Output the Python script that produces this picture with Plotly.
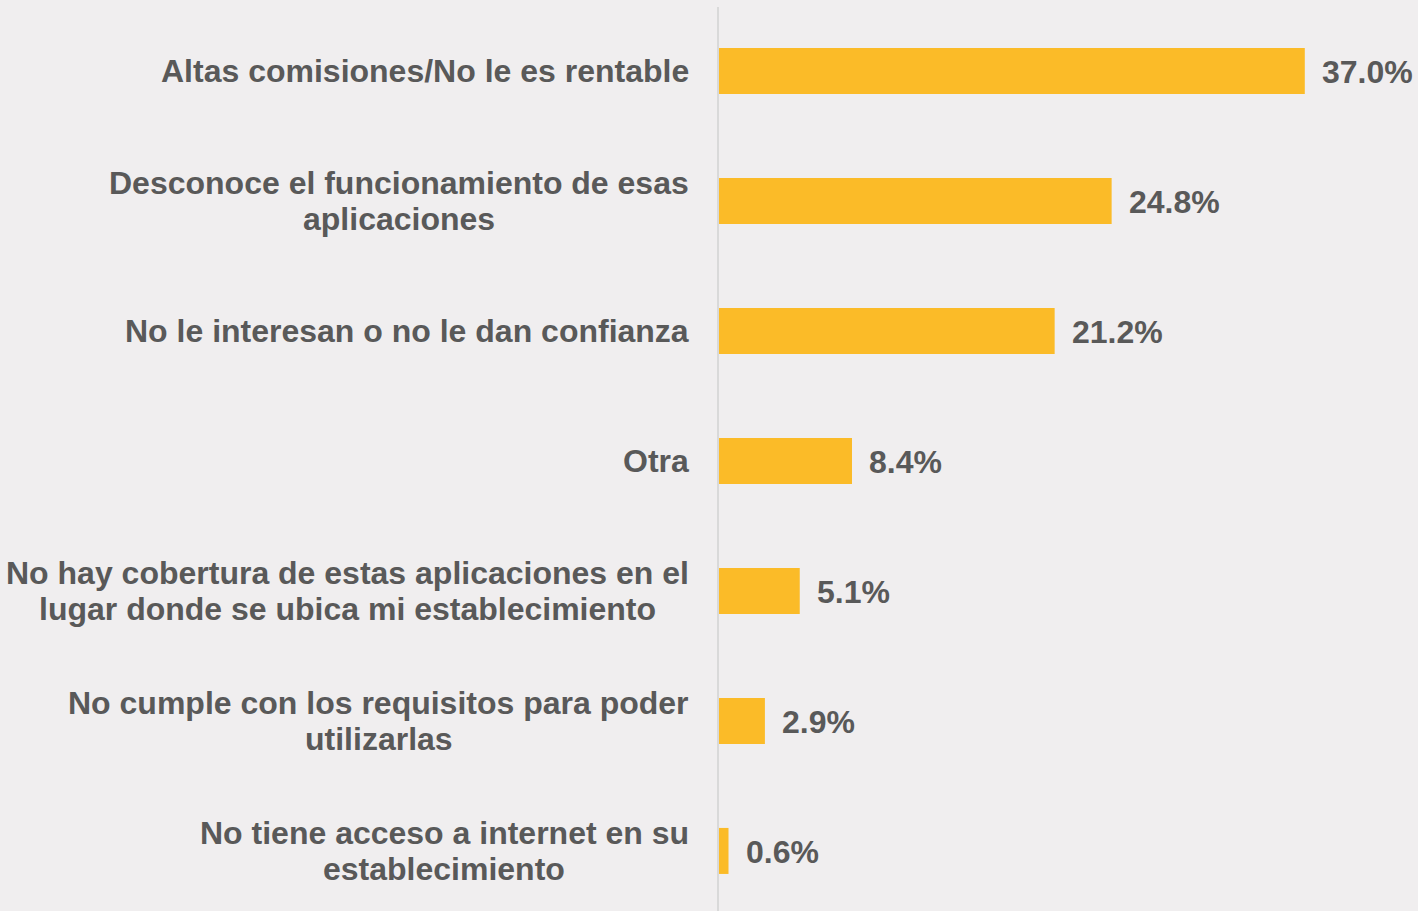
import plotly.graph_objects as go

categories = [
    "Altas comisiones/No le es rentable",
    "Desconoce el funcionamiento de esas\naplicaciones",
    "No le interesan o no le dan confianza",
    "Otra",
    "No hay cobertura de estas aplicaciones en el\nlugar donde se ubica mi establecimiento",
    "No cumple con los requisitos para poder\nutilizarlas",
    "No tiene acceso a internet en su\nestablecimiento",
]
values = [37.0, 24.8, 21.2, 8.4, 5.1, 2.9, 0.6]
value_labels = ["37.0%", "24.8%", "21.2%", "8.4%", "5.1%", "2.9%", "0.6%"]

BG = "#F0EEEF"
BAR = "#FBBB28"
TXT = "#595959"
FONT = "Liberation Sans, Arial, sans-serif"
LABEL_SIZE = 32
VALUE_SIZE = 32
LINE_GAP = 36

# Arial Bold / Liberation Sans Bold advance widths (units per 1000 em)
W = {" ": 278, "a": 556, "b": 611, "c": 556, "d": 611, "e": 556, "f": 333,
     "g": 611, "h": 611, "i": 278, "j": 278, "k": 556, "l": 278, "m": 889,
     "n": 611, "o": 611, "p": 611, "q": 611, "r": 389, "s": 556, "t": 333,
     "u": 611, "v": 556, "w": 778, "x": 556, "y": 556, "z": 500, "A": 722,
     "D": 722, "N": 722, "O": 778, "/": 278}


def text_width(s, size):
    return sum(W.get(ch, 600) for ch in s) * size / 1000.0


ypos = list(range(len(categories)))

fig = go.Figure(go.Bar(
    x=values, y=ypos, orientation="h",
    marker=dict(color=BAR, line=dict(width=0)),
    width=0.354, hoverinfo="skip",
))

annotations = []
for i, (c, v, t) in enumerate(zip(categories, values, value_labels)):
    lines = c.split("\n")
    block = max(text_width(s, LABEL_SIZE) for s in lines)
    n = len(lines)
    for k, s in enumerate(lines):
        annotations.append(dict(
            x=0, y=i, xref="x", yref="y", text="<b>%s</b>" % s,
            xanchor="center", yanchor="middle",
            xshift=-30 - block / 2.0,
            yshift=((n - 1) / 2.0 - k) * LINE_GAP,
            showarrow=False, font=dict(family=FONT, size=LABEL_SIZE, color=TXT),
        ))
    annotations.append(dict(
        x=v, y=i, xref="x", yref="y", text="<b>%s</b>" % t,
        xanchor="left", yanchor="middle", xshift=15, yshift=-1,
        showarrow=False, font=dict(family=FONT, size=VALUE_SIZE, color=TXT),
    ))

fig.update_layout(
    width=1418, height=911,
    margin=dict(l=719, r=0, t=7, b=0),
    paper_bgcolor=BG, plot_bgcolor=BG,
    showlegend=False,
    xaxis=dict(range=[0, 44.15], showgrid=False, zeroline=False,
               showticklabels=False, showline=False, fixedrange=True),
    yaxis=dict(range=[6.462, -0.492], showgrid=False, zeroline=False,
               showticklabels=False, showline=True, linecolor="#D9D9D9",
               linewidth=2, fixedrange=True),
    annotations=annotations,
)

fig.write_html(
    "out.html",
    config={"displayModeBar": False},
    post_script="document.body.style.margin='0';document.body.style.background='%s';" % BG,
)
